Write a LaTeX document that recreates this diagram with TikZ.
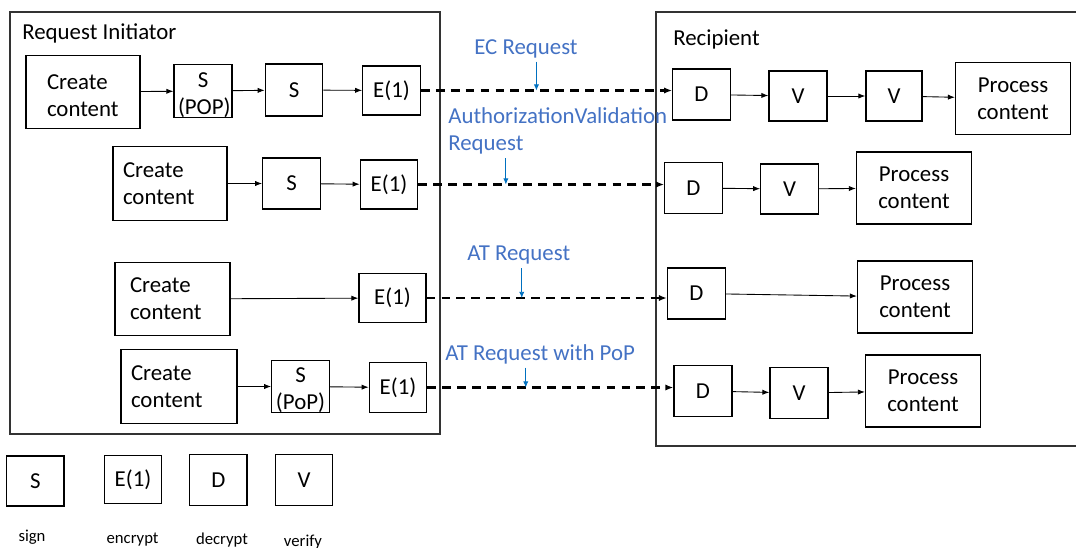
\documentclass[tikz,border=0pt]{standalone}
\usepackage{fontspec}
\setmainfont{Carlito}
\usetikzlibrary{arrows.meta}
\definecolor{reqblue}{HTML}{4472C4}
\definecolor{tickblue}{HTML}{0070C0}

\begin{document}
\begin{tikzpicture}[
    x=0.02cm, y=-0.02cm,
    every node/.style={font=\fontsize{13}{15.5}\selectfont},
    box/.style={draw, line width=0.7pt, inner sep=0pt, align=center},
    sq/.style={box, minimum width=1.15cm, minimum height=1.02cm},
    proc/.style={box, minimum width=2.3cm, minimum height=1.44cm},
    create/.style={box, align=left, minimum height=1.47cm},
    frame/.style={draw=black!80, line width=0.6pt},
    flow/.style={-{Latex[length=4pt,width=3pt]}, line width=0.5pt},
    req/.style={-{Latex[length=4.5pt,width=3.5pt]}, line width=1.2pt, dash pattern=on 5pt off 3.5pt},
    tick/.style={-{Latex[length=3.5pt,width=3pt]}, tickblue, line width=0.5pt, shorten <=2pt},
    reqlabel/.style={text=reqblue, anchor=west, inner sep=0pt, align=left},
    legend/.style={font=\fontsize{9.5}{11}\selectfont, anchor=base, inner sep=0pt}]

\useasboundingbox (0,0) rectangle (1076,548);

% the two parties
\draw[frame] (10,12) rectangle (440,434);
\node[anchor=west, inner sep=0pt] (init) at (22,33) {Request Initiator};
\draw[frame] (1080,12) -| (656,446) -- (1080,446);
\node[anchor=west, inner sep=0pt] (recip) at (673,39) {Recipient};

% initiator side
\node[create, inner xsep=0.42cm, text width=1.44cm, text height=10pt, text depth=13pt] (c1) at (83,92) {Create\\content};
\node[sq, minimum width=1.16cm, minimum height=1.06cm, text width=1cm, text height=10pt, text depth=13.8pt] (sp1) at (203,91) {S\\(POP)};
\node[sq, minimum height=1.04cm] (s1) at (294,90) {S};
\node[sq, minimum height=0.98cm] (e1) at (391.5,90.5) {E(1)};

\node[create, inner xsep=0.2cm, text width=1.88cm] (c2) at (170,183.5) {Create\\content};
\node[sq] (s2) at (291.5,183.5) {S};
\node[sq, minimum height=0.98cm] (e2) at (389,184.5) {E(1)};

\node[create, inner xsep=0.3cm, text width=1.7cm] (c3) at (172.5,299) {Create\\content};
\node[sq, minimum width=1.34cm, minimum height=0.98cm] (e3) at (392.5,298) {E(1)};

\node[create, inner xsep=0.2cm, text width=1.92cm] (c4) at (179,386.5) {Create\\content};
\node[sq, minimum height=1.03cm, text width=1cm, text height=10pt, text depth=15pt] (sp4) at (300.5,386.5) {S\\(PoP)};
\node[sq, minimum height=0.99cm] (e4) at (398,387.5) {E(1)};

% recipient side
\node[sq] (d1) at (701.5,94.5) {D};
\node[sq, minimum width=1.16cm, minimum height=1cm] (v1) at (798,96) {V};
\node[sq, minimum width=1.12cm, minimum height=1cm] (v1b) at (894,96) {V};
\node[proc] (p1) at (1013,98.5) {Process\\content};

\node[sq] (d2) at (693.5,188) {D};
\node[sq, minimum height=1cm] (v2) at (789.5,189) {V};
\node[proc] (p2) at (914,188) {Process\\content};

\node[sq, minimum width=1.16cm] (d3) at (696.5,293.5) {D};
\node[proc] (p3) at (915,297) {Process\\content};

\node[sq, minimum width=1.16cm] (d4) at (703,391) {D};
\node[sq, minimum width=1.16cm] (v4) at (799,393) {V};
\node[proc] (p4) at (923,391) {Process\\content};

% legend
\node[sq, minimum height=1cm] (ls) at (35.3,481) {S};
\node[sq, minimum height=0.95cm] (le) at (133,479.5) {E(1)};
\node[sq] (ld) at (218.3,479.7) {D};
\node[sq] (lv) at (304,479.7) {V};
\node[legend] (lsign) at (32,541) {sign};
\node[legend] (lenc) at (132.6,543) {encrypt};
\node[legend] (ldec) at (222,544.5) {decrypt};
\node[legend] (lver) at (303,546) {verify};

% processing steps
\draw[flow] (c1) -- (sp1);
\draw[flow] (sp1) -- (s1);
\draw[flow] (s1) -- (e1);
\draw[flow] (c2) -- (s2);
\draw[flow] (s2) -- (e2);
\draw[flow] (c3) -- (e3);
\draw[flow] (c4) -- (sp4);
\draw[flow] (sp4) -- (e4);

\draw[flow] (d1) -- (v1);
\draw[flow] (v1) -- (v1b);
\draw[flow] (v1b) -- (p1);
\draw[flow] (d2) -- (v2);
\draw[flow] (v2) -- (p2);
\draw[flow] (d3) -- (p3);
\draw[flow] (d4) -- (v4);
\draw[flow] (v4) -- (p4);

% requests
\draw[req] (e1.east) -- coordinate[pos=0.46] (m1) (e1.east -| d1.west);
\draw[req] (e2.east) -- coordinate[pos=0.356] (m2) (e2.east -| d2.west);
\draw[req] (e3.east) -- coordinate[pos=0.396] (m3) (e3.east -| d3.west);
\draw[req] (e4.east) -- coordinate[pos=0.40] (m4) (e4.east -| d4.west);

\node[reqlabel] (ecreq) at (474,48.5) {EC Request};
\node[reqlabel] (avreq) at (448,131) {AuthorizationValidation\\Request};
\node[reqlabel] (atreq) at (467,255) {AT Request};
\node[reqlabel] (atpop) at (445,354) {AT Request with PoP};

\draw[tick] (m1 |- ecreq.south) -- (m1);
\draw[tick] (m2 |- avreq.south) -- (m2);
\draw[tick] (m3 |- atreq.south) -- (m3);
\draw[tick] (m4 |- atpop.south) -- (m4);

\end{tikzpicture}
\end{document}
